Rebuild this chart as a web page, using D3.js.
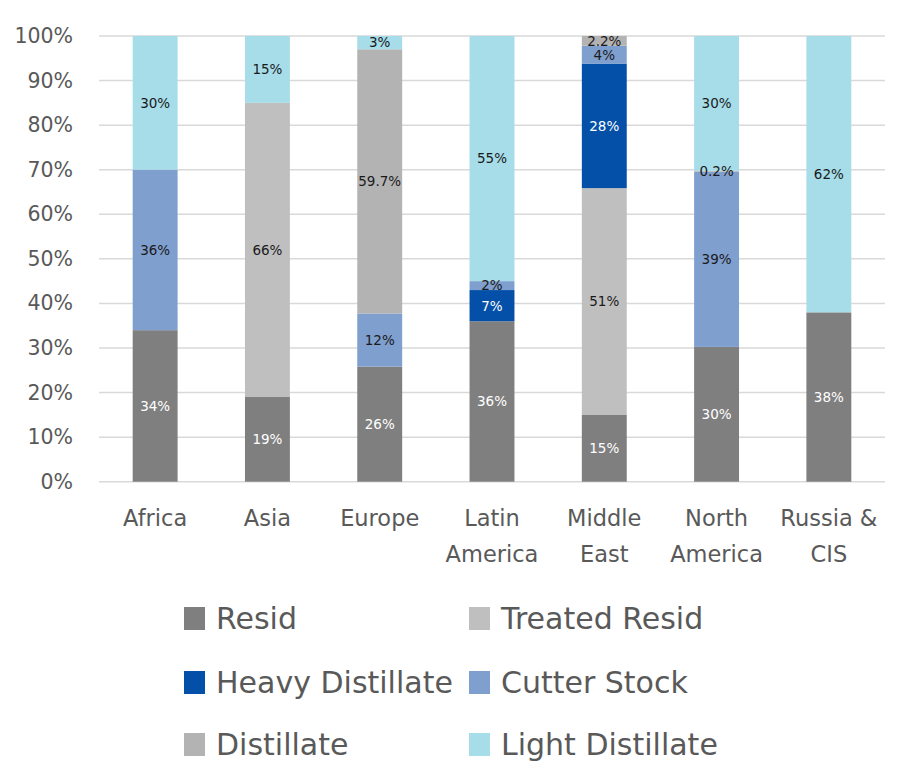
<!DOCTYPE html>
<html>
<head>
<meta charset="utf-8">
<script src="https://cdn.jsdelivr.net/npm/d3@7"></script>
<style>
  html, body { margin: 0; padding: 0; background: #fff; }
  svg { display: block; font-family: "DejaVu Sans", "Open Sans", sans-serif; }
</style>
</head>
<body>
<svg id="chart" width="906" height="764"></svg>
<script>
// Regions along the x axis (two-line labels are split on "\n")
const regions = ["Africa", "Asia", "Europe", "Latin\nAmerica", "Middle\nEast", "North\nAmerica", "Russia &\nCIS"];

// Product series, in stacking order from the bottom up
const seriesNames = ["Resid", "Treated Resid", "Heavy Distillate", "Cutter Stock", "Distillate", "Light Distillate"];
const seriesColors = ["#7f7f7f", "#bfbfbf", "#0450a8", "#7f9fcf", "#b3b3b3", "#a6dde9"];
const labelColors = ["#ffffff", "#1a1a1a", "#ffffff", "#1a1a1a", "#1a1a1a", "#1a1a1a"];

// Share of each product per region (%), null where the product is absent
const resid           = [34, 19, 26, 36, 15, 30, 38];
const treatedResid    = [null, 66, null, null, 51, null, null];
const heavyDistillate = [null, null, null, 7, 28, null, null];
const cutterStock     = [36, null, 12, 2, 4, 39, null];
const distillate      = [null, null, 59.7, null, 2.2, 0.2, null];
const lightDistillate = [30, 15, 3, 55, null, 30, 62];

// Label text for each value
const fmt = v => (Number.isInteger(v) ? v : v.toFixed(1)) + "%";

const yTicks = [0, 10, 20, 30, 40, 50, 60, 70, 80, 90, 100];

const seriesValues = [resid, treatedResid, heavyDistillate, cutterStock, distillate, lightDistillate];

// Build rows and normalise each region to 100%
const rows = regions.map((r, i) => {
  const row = { region: r };
  let total = 0;
  seriesNames.forEach((s, k) => { const v = seriesValues[k][i]; row[s] = v || 0; total += v || 0; });
  row.total = total;
  return row;
});
const normRows = rows.map(row => {
  const o = { region: row.region };
  seriesNames.forEach(s => { o[s] = row[s] / row.total * 100; });
  return o;
});

const stacked = d3.stack().keys(seriesNames)(normRows);

const svg = d3.select("#chart");
const margin = { left: 99, right: 21 };
const width = 906;

const x = d3.scaleBand()
  .domain(regions)
  .range([margin.left, width - margin.right])
  .paddingInner(0.6)
  .paddingOuter(0.3);

const y = d3.scaleLinear()
  .domain([0, 100])
  .range([481.7, 36]);

// Gridlines
svg.append("g")
  .selectAll("line")
  .data(yTicks)
  .join("line")
  .attr("x1", margin.left)
  .attr("x2", width - margin.right)
  .attr("y1", d => y(d))
  .attr("y2", d => y(d))
  .attr("stroke", "#d9d9d9")
  .attr("stroke-width", 1.5);

// Y axis labels
const yAxis = d3.axisLeft(y).tickValues(yTicks).tickFormat(d => d + "%").tickSize(0).tickPadding(0);
const yg = svg.append("g").attr("transform", "translate(73,0)").call(yAxis);
yg.select(".domain").remove();
yg.selectAll("text")
  .attr("fill", "#595959")
  .style("font-size", "20.5px")
  .style("font-family", "'DejaVu Sans', sans-serif");

// Stacked bars
const layer = svg.append("g")
  .selectAll("g")
  .data(stacked)
  .join("g")
  .attr("fill", (d, i) => seriesColors[i]);

layer.selectAll("rect")
  .data(d => d.map(p => ({ p, key: d.key })))
  .join("rect")
  .attr("x", d => x(d.p.data.region))
  .attr("width", x.bandwidth())
  .attr("y", d => y(d.p[1]))
  .attr("height", d => Math.max(0, y(d.p[0]) - y(d.p[1])));

// Value labels centred in each segment
const labels = [];
stacked.forEach((s, k) => {
  s.forEach((p, i) => {
    const v = seriesValues[k][i];
    if (v == null) return;
    labels.push({ region: regions[i], mid: (p[0] + p[1]) / 2, text: fmt(v), color: labelColors[k] });
  });
});

svg.append("g")
  .selectAll("text")
  .data(labels)
  .join("text")
  .attr("x", d => x(d.region) + x.bandwidth() / 2)
  .attr("y", d => y(d.mid))
  .attr("dy", "0.36em")
  .attr("text-anchor", "middle")
  .attr("fill", d => d.color)
  .style("font-size", "13.5px")
  .text(d => d.text);

// Category labels
const xg = svg.append("g");
regions.forEach(r => {
  const t = xg.append("text")
    .attr("x", x(r) + x.bandwidth() / 2)
    .attr("y", 526)
    .attr("text-anchor", "middle")
    .attr("fill", "#595959")
    .style("font-size", "22.5px");
  r.split("\n").forEach((line, j) => {
    t.append("tspan")
      .attr("x", x(r) + x.bandwidth() / 2)
      .attr("dy", j === 0 ? 0 : 36)
      .text(line);
  });
});

// Legend: two columns, three rows
const legend = svg.append("g");
const colX = [184, 469];
const rowY = [618, 682, 744];
seriesNames.forEach((s, i) => {
  const cx = colX[i % 2], cy = rowY[Math.floor(i / 2)];
  legend.append("rect")
    .attr("x", cx).attr("y", cy - 11)
    .attr("width", 21).attr("height", 23)
    .attr("fill", seriesColors[i]);
  legend.append("text")
    .attr("x", cx + 32).attr("y", cy)
    .attr("dy", "0.36em")
    .attr("fill", "#595959")
    .style("font-size", "30px")
    .text(s);
});
</script>
</body>
</html>
